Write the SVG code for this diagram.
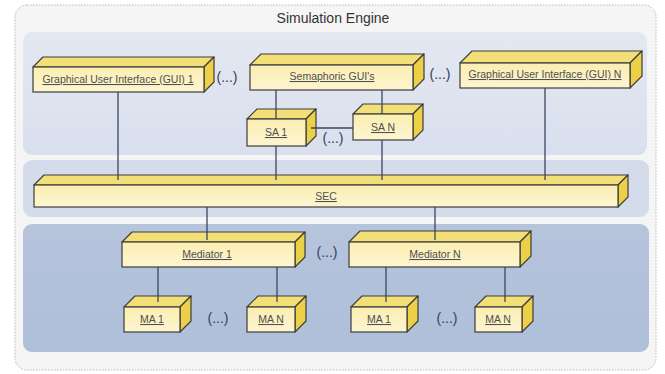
<svg xmlns="http://www.w3.org/2000/svg" width="665" height="374" viewBox="0 0 665 374">
<defs>
<linearGradient id="front" x1="0" y1="0" x2="0" y2="1">
<stop offset="0" stop-color="#fbeeb0"/>
<stop offset="1" stop-color="#fdf5d2"/>
</linearGradient>
<linearGradient id="topPanel" x1="0" y1="0" x2="0" y2="1">
<stop offset="0" stop-color="#e4e8f2"/>
<stop offset="1" stop-color="#d9dfed"/>
</linearGradient>
<linearGradient id="lowPanel" x1="0" y1="0" x2="0" y2="1">
<stop offset="0" stop-color="#b6c4dc"/>
<stop offset="1" stop-color="#aebfd9"/>
</linearGradient>
</defs>
<style>
.top{fill:#f3df78;stroke:#3d3d3d;stroke-width:1.2;stroke-linejoin:round}
.side{fill:#ecd048;stroke:#3d3d3d;stroke-width:1.2;stroke-linejoin:round}
.front{fill:url(#front);stroke:#3d3d3d;stroke-width:1.2}
.lbl{font-family:"Liberation Sans",Arial,sans-serif;font-size:10.5px;fill:#4f4f4f;text-anchor:middle;text-decoration:underline}
.dots{font-family:"Liberation Sans",Arial,sans-serif;font-size:14px;fill:#33405e;text-anchor:middle}
.conn line{stroke:#3a4660;stroke-width:1.3}
</style>
<rect x="0" y="0" width="665" height="374" fill="#ffffff"/>
<rect x="15" y="5" width="641" height="365" rx="12" fill="#f5f5f5" stroke="#b8b8b8" stroke-width="1" stroke-dasharray="1.5 1.5"/>
<text x="333" y="23" font-family="'Liberation Sans',Arial,sans-serif" font-size="14" fill="#333333" text-anchor="middle">Simulation Engine</text>
<rect x="23" y="32" width="624" height="123" rx="9" fill="url(#topPanel)"/>
<rect x="23" y="160" width="626" height="57" rx="9" fill="#d4dcec"/>
<rect x="23" y="224" width="626" height="128" rx="9" fill="url(#lowPanel)"/>

<g id="gui1">
<path class="top" d="M33,67 L43,57 L214,57 L204,67 Z"/>
<path class="side" d="M204,67 L214,57 L214,82 L204,92 Z"/>
<rect class="front" x="33" y="67" width="171" height="25"/>
<text class="lbl" x="118" y="83">Graphical User Interface (GUI) 1</text>
</g>
<g id="semaphoric">
<path class="top" d="M250,65 L261,54 L424,54 L413,65 Z"/>
<path class="side" d="M413,65 L424,54 L424,79 L413,90 Z"/>
<rect class="front" x="250" y="65" width="163" height="25"/>
<text class="lbl" x="332" y="80">Semaphoric GUI's</text>
</g>
<g id="guin">
<path class="top" d="M460,63 L472,51 L642,51 L630,63 Z"/>
<path class="side" d="M630,63 L642,51 L642,76 L630,88 Z"/>
<rect class="front" x="460" y="63" width="170" height="25"/>
<text class="lbl" x="545" y="78">Graphical User Interface (GUI) N</text>
</g>
<g id="sa1">
<path class="top" d="M247,119 L257,109 L316,109 L306,119 Z"/>
<path class="side" d="M306,119 L316,109 L316,136 L306,146 Z"/>
<rect class="front" x="247" y="119" width="59" height="27"/>
<text class="lbl" x="276" y="136">SA 1</text>
</g>
<g id="san">
<path class="top" d="M353,114 L363,104 L423,104 L413,114 Z"/>
<path class="side" d="M413,114 L423,104 L423,130 L413,140 Z"/>
<rect class="front" x="353" y="114" width="60" height="26"/>
<text class="lbl" x="383" y="131">SA N</text>
</g>
<g id="sec">
<path class="top" d="M34,185 L44,175 L628,175 L618,185 Z"/>
<path class="side" d="M618,185 L628,175 L628,197 L618,207 Z"/>
<rect class="front" x="34" y="185" width="584" height="22"/>
<text class="lbl" x="326" y="200">SEC</text>
</g>
<g id="mediator1">
<path class="top" d="M122,242 L132,232 L305,232 L295,242 Z"/>
<path class="side" d="M295,242 L305,232 L305,257 L295,267 Z"/>
<rect class="front" x="122" y="242" width="173" height="25"/>
<text class="lbl" x="207" y="258">Mediator 1</text>
</g>
<g id="mediatorN">
<path class="top" d="M349,242 L360,231 L531,231 L520,242 Z"/>
<path class="side" d="M520,242 L531,231 L531,256 L520,267 Z"/>
<rect class="front" x="349" y="242" width="171" height="25"/>
<text class="lbl" x="435" y="258">Mediator N</text>
</g>
<g id="ma1a">
<path class="top" d="M124,307 L135,296 L191,296 L180,307 Z"/>
<path class="side" d="M180,307 L191,296 L191,321 L180,332 Z"/>
<rect class="front" x="124" y="307" width="56" height="25"/>
<text class="lbl" x="152" y="323">MA 1</text>
</g>
<g id="mana">
<path class="top" d="M247,307 L258,296 L306,296 L295,307 Z"/>
<path class="side" d="M295,307 L306,296 L306,321 L295,332 Z"/>
<rect class="front" x="247" y="307" width="48" height="25"/>
<text class="lbl" x="271" y="323">MA N</text>
</g>
<g id="ma1b">
<path class="top" d="M351,307 L362,296 L418,296 L407,307 Z"/>
<path class="side" d="M407,307 L418,296 L418,321 L407,332 Z"/>
<rect class="front" x="351" y="307" width="56" height="25"/>
<text class="lbl" x="379" y="323">MA 1</text>
</g>
<g id="manb">
<path class="top" d="M475,307 L486,296 L533,296 L522,307 Z"/>
<path class="side" d="M522,307 L533,296 L533,321 L522,332 Z"/>
<rect class="front" x="475" y="307" width="47" height="25"/>
<text class="lbl" x="498" y="323">MA N</text>
</g>

<g id="connectors" class="conn">
<line x1="118" y1="92" x2="118" y2="180"/>
<line x1="276" y1="90" x2="276" y2="119"/>
<line x1="382" y1="90" x2="382" y2="114"/>
<line x1="276" y1="146" x2="276" y2="180"/>
<line x1="382" y1="140" x2="382" y2="180"/>
<line x1="545" y1="88" x2="545" y2="180"/>
<line x1="311" y1="128" x2="353" y2="128"/>
<line x1="207" y1="207" x2="207" y2="240"/>
<line x1="435" y1="207" x2="435" y2="240"/>
<line x1="158" y1="267" x2="158" y2="302"/>
<line x1="277" y1="267" x2="277" y2="302"/>
<line x1="386" y1="267" x2="386" y2="302"/>
<line x1="505" y1="267" x2="505" y2="302"/>
</g>

<g id="ellipses">
<text class="dots" x="227" y="82">(...)</text>
<text class="dots" x="440" y="79">(...)</text>
<text class="dots" x="333" y="143">(...)</text>
<text class="dots" x="327" y="257">(...)</text>
<text class="dots" x="218" y="323">(...)</text>
<text class="dots" x="447" y="323">(...)</text>
</g>
</svg>
